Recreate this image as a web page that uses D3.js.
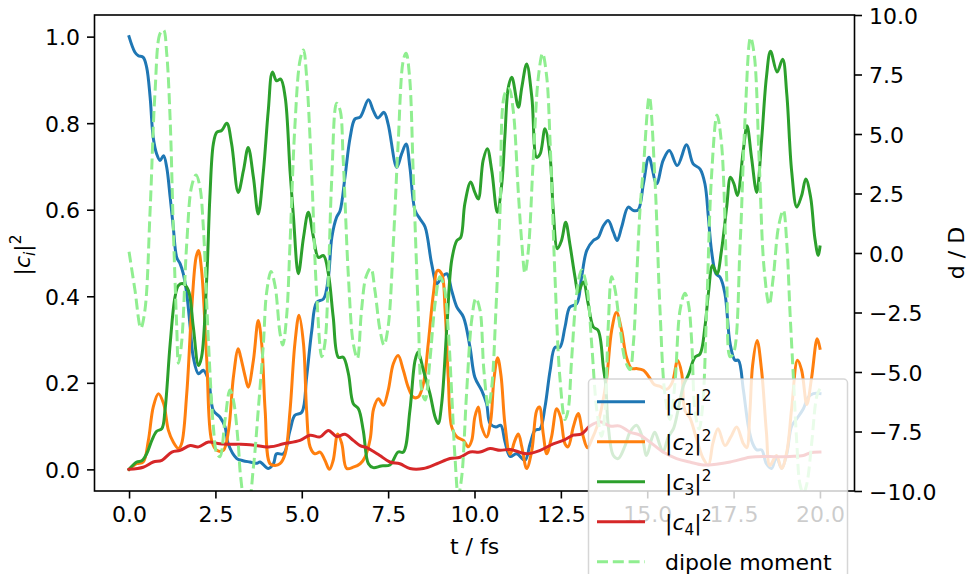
<!DOCTYPE html>
<html>
<head>
<meta charset="utf-8">
<script src="https://cdn.jsdelivr.net/npm/d3@7"></script>
<style>
  html, body { margin: 0; padding: 0; background: #fff; }
  svg { display: block; font-family: 'DejaVu Sans', sans-serif; }
</style>
</head>
<body>
<svg id="chart" width="973" height="574"></svg>
<script>
// populations |c_i|^2 as [t (fs), value]
const c1 = [[0,1.0],[0.17,0.964],[0.27,0.956],[0.41,0.952],[0.51,0.929],[0.61,0.86],[0.70,0.767],[0.80,0.729],[0.90,0.714],[1.0,0.725],
  [1.09,0.698],[1.19,0.629],[1.28,0.56],[1.38,0.49],[1.48,0.475],[1.57,0.452],[1.67,0.406],[1.77,0.329],[1.86,0.259],[2.01,0.221],
  [2.15,0.229],[2.30,0.206],[2.44,0.136],[2.63,0.121],[2.78,0.098],[2.87,0.059],[3.12,0.025],[3.3,0.02],[3.5,0.017],[3.7,0.014],
  [3.79,0.017],[4.03,0.002],[4.18,0.013],[4.27,0.036],[4.47,0.036],[4.66,0.09],[4.80,0.125],[5.0,0.132],[5.14,0.213],[5.29,0.321],
  [5.43,0.386],[5.63,0.394],[5.77,0.444],[5.87,0.536],[6.01,0.583],[6.11,0.598],[6.25,0.675],[6.40,0.767],[6.54,0.81],[6.69,0.814],
  [6.93,0.854],[7.07,0.829],[7.2,0.812],[7.38,0.825],[7.5,0.798],[7.75,0.698],[7.89,0.729],[8.02,0.752],[8.13,0.698],[8.28,0.598],
  [8.42,0.579],[8.57,0.56],[8.76,0.475],[8.91,0.429],[9.05,0.444],[9.20,0.452],[9.34,0.413],[9.49,0.375],[9.68,0.352],[9.87,0.282],
  [10.01,0.213],[10.21,0.182],[10.35,0.152],[10.45,0.106],[10.62,0.098],[10.76,0.102],[10.88,0.065],[11.03,0.03],[11.22,0.036],[11.46,0.021],
  [11.61,0.059],[11.75,0.09],[11.90,0.094],[12.04,0.144],[12.19,0.229],[12.33,0.282],[12.47,0.282],[12.62,0.329],[12.76,0.375],[12.96,0.383],
  [13.10,0.444],[13.25,0.506],[13.44,0.529],[13.58,0.536],[13.73,0.563],[13.87,0.575],[14.02,0.548],[14.13,0.529],[14.26,0.56],[14.45,0.606],
  [14.60,0.598],[14.74,0.6],[14.89,0.66],[15.05,0.721],[15.27,0.66],[15.46,0.714],[15.64,0.737],[15.87,0.702],[16.14,0.75],[16.33,0.706],
  [16.53,0.694],[16.67,0.66],[16.77,0.583],[16.86,0.506],[16.99,0.452],[17.11,0.444],[17.25,0.406],[17.40,0.29],[17.54,0.252],[17.64,0.252],
  [17.78,0.185],[17.93,0.098],[18.05,0.06],[18.17,0.045],[18.31,0.045],[18.45,0.013],[18.60,0.002],[18.74,0.028],[18.89,0.002],[19.04,0.036],
  [19.18,0.1],[19.33,0.117],[19.52,0.14],[19.66,0.167],[19.81,0.175],[20,0.175]];

const c2 = [[0,0],[0.22,0.013],[0.41,0.017],[0.56,0.067],[0.70,0.144],[0.85,0.175],[1.0,0.152],[1.14,0.09],[1.28,0.063],[1.43,0.048],
  [1.52,0.059],[1.67,0.175],[1.81,0.367],[1.94,0.49],[2.01,0.506],[2.10,0.46],[2.25,0.252],[2.39,0.067],[2.54,0.044],[2.73,0.044],
  [2.88,0.09],[3.02,0.213],[3.16,0.279],[3.23,0.26],[3.36,0.215],[3.45,0.19],[3.60,0.252],[3.74,0.344],[3.84,0.29],[3.94,0.136],
  [4.08,0.013],[4.23,0.009],[4.37,0.013],[4.52,0.036],[4.66,0.136],[4.80,0.29],[4.92,0.356],[5.05,0.29],[5.14,0.136],[5.24,0.052],
  [5.38,0.036],[5.53,0.04],[5.67,0.021],[5.80,0],[5.91,0.021],[6.04,0.082],[6.16,0.059],[6.30,0.002],[6.49,0.005],[6.69,0.013],
  [6.83,0.028],[6.98,0.07],[7.08,0.14],[7.22,0.163],[7.36,0.148],[7.5,0.182],[7.65,0.244],[7.79,0.263],[7.94,0.229],[8.08,0.19],
  [8.23,0.167],[8.37,0.167],[8.52,0.198],[8.66,0.29],[8.81,0.406],[8.93,0.46],[9.05,0.452],[9.15,0.367],[9.24,0.213],[9.34,0.098],
  [9.49,0.075],[9.68,0.067],[9.82,0.052],[9.92,0.067],[10.01,0.121],[10.11,0.144],[10.21,0.098],[10.35,0.075],[10.47,0.113],[10.56,0.206],
  [10.67,0.258],[10.77,0.215],[10.88,0.105],[11.03,0.035],[11.17,0.067],[11.27,0.082],[11.37,0.052],[11.51,0.002],[11.66,0.044],[11.80,0.136],
  [11.88,0.144],[11.99,0.082],[12.09,0.036],[12.23,0.075],[12.38,0.14],[12.49,0.121],[12.62,0.059],[12.71,0.052],[12.86,0.098],[13.0,0.129],
  [13.15,0.075],[13.27,0.05],[13.4,0.07],[13.55,0.1],[13.7,0.15],[13.83,0.213],[13.97,0.321],[14.11,0.363],[14.26,0.321],[14.40,0.259],
  [14.55,0.233],[14.69,0.233],[14.89,0.229],[15.08,0.21],[15.2,0.196],[15.37,0.192],[15.56,0.185],[15.72,0.2],[15.88,0.252],[16.0,0.221],
  [16.09,0.136],[16.23,0.12],[16.43,0.07],[16.62,0.025],[16.77,0.01],[16.9,0.06],[17.05,0.094],[17.25,0.055],[17.42,0.075],[17.59,0.098],
  [17.78,0.06],[17.88,0.05],[17.97,0.13],[18.05,0.24],[18.18,0.298],[18.31,0.229],[18.45,0.086],[18.55,0.009],[18.74,0.032],[18.89,0.002],
  [19.04,0.04],[19.18,0.14],[19.35,0.252],[19.47,0.229],[19.62,0.15],[19.76,0.213],[19.92,0.302],[20,0.28]];

const c3 = [[0,0],[0.22,0.017],[0.37,0.02],[0.51,0.036],[0.66,0.067],[0.80,0.088],[0.95,0.094],[1.04,0.136],[1.19,0.29],[1.33,0.398],
  [1.43,0.425],[1.57,0.429],[1.72,0.413],[1.86,0.329],[2.01,0.24],[2.10,0.26],[2.25,0.444],[2.34,0.629],[2.44,0.752],[2.54,0.779],
  [2.68,0.783],[2.83,0.8],[2.97,0.752],[3.16,0.64],[3.31,0.69],[3.45,0.744],[3.60,0.675],[3.74,0.59],[3.89,0.69],[4.03,0.829],
  [4.15,0.918],[4.27,0.898],[4.39,0.902],[4.52,0.86],[4.66,0.69],[4.76,0.583],[4.90,0.452],[5.05,0.536],[5.19,0.594],[5.34,0.536],
  [5.48,0.49],[5.63,0.494],[5.77,0.452],[5.91,0.352],[6.06,0.259],[6.20,0.259],[6.35,0.221],[6.49,0.152],[6.64,0.14],[6.78,0.09],
  [6.93,0.013],[7.07,0.004],[7.3,0.008],[7.55,0.01],[7.79,0.04],[7.94,0.04],[8.13,0.136],[8.28,0.252],[8.37,0.271],[8.52,0.229],
  [8.71,0.175],[8.86,0.121],[8.95,0.106],[9.05,0.152],[9.20,0.329],[9.34,0.483],[9.49,0.529],[9.60,0.536],[9.72,0.614],[9.89,0.664],
  [10.01,0.64],[10.11,0.625],[10.25,0.714],[10.37,0.741],[10.5,0.69],[10.66,0.594],[10.79,0.66],[10.88,0.77],[10.98,0.883],[11.08,0.906],
  [11.27,0.837],[11.37,0.883],[11.51,0.937],[11.66,0.86],[11.80,0.721],[11.90,0.729],[12.04,0.787],[12.19,0.721],[12.28,0.598],[12.40,0.51],
  [12.52,0.529],[12.64,0.571],[12.76,0.521],[12.91,0.444],[13.0,0.41],[13.15,0.433],[13.29,0.383],[13.44,0.329],[13.58,0.321],[13.73,0.236],
  [13.80,0.194],[13.87,0.102],[14.02,0.032],[14.16,0.025],[14.36,0.055],[14.50,0.086],[14.69,0.102],[14.84,0.079],[14.98,0.032],[15.13,0.071],
  [15.22,0.086],[15.37,0.055],[15.46,0.04],[15.61,0.075],[15.76,0.094],[15.90,0.14],[16.05,0.194],[16.2,0.22],[16.38,0.259],[16.53,0.267],
  [16.67,0.329],[16.77,0.406],[16.89,0.471],[17.02,0.452],[17.15,0.506],[17.30,0.606],[17.41,0.675],[17.51,0.66],[17.61,0.633],[17.78,0.737],
  [17.89,0.794],[18.02,0.72],[18.17,0.64],[18.31,0.76],[18.45,0.906],[18.57,0.966],[18.76,0.918],[18.92,0.948],[19.04,0.867],[19.18,0.69],
  [19.33,0.606],[19.47,0.633],[19.59,0.671],[19.73,0.629],[19.85,0.536],[19.95,0.494],[20,0.514]];

const c4 = [[0,0],[0.41,0.005],[0.70,0.017],[0.95,0.021],[1.24,0.04],[1.48,0.044],[1.77,0.055],[2.01,0.052],[2.30,0.063],[2.63,0.059],
  [3.12,0.058],[3.5,0.057],[4.08,0.052],[4.47,0.059],[4.95,0.067],[5.24,0.079],[5.53,0.075],[5.77,0.09],[6.01,0.076],[6.25,0.081],
  [6.49,0.067],[6.69,0.055],[6.88,0.05],[7.1,0.04],[7.26,0.032],[7.55,0.017],[7.84,0.013],[8.13,0.002],[8.52,0.002],[8.91,0.013],
  [9.29,0.025],[9.58,0.028],[9.87,0.04],[10.16,0.04],[10.45,0.048],[10.74,0.044],[11.03,0.046],[11.51,0.036],[11.90,0.044],[12.28,0.059],
  [12.57,0.067],[12.86,0.079],[13.10,0.082],[13.34,0.1],[13.63,0.11],[13.92,0.1],[14.21,0.1],[14.50,0.086],[14.79,0.079],[15.08,0.063],
  [15.46,0.04],[15.85,0.025],[16.23,0.017],[16.62,0.01],[17.0,0.012],[17.40,0.017],[17.97,0.028],[18.36,0.03],[18.74,0.029],[19.13,0.03],
  [19.52,0.032],[19.71,0.038],[20,0.04]];

// dipole moment (right axis, D)
const dipole = [[0,0.05],[0.17,-1.55],[0.34,-3.16],[0.46,-2.4],[0.61,1.8],[0.75,6.7],[0.9,9.23],[1.0,9.37],[1.09,8.39],[1.19,5.59],
  [1.28,1.1],[1.38,-3.1],[1.43,-4.63],[1.52,-3.79],[1.67,0.41],[1.81,2.79],[1.94,3.28],[2.05,2.79],[2.15,1.1],[2.30,-3.79],
  [2.44,-7.3],[2.54,-8.42],[2.63,-8.56],[2.78,-7.0],[2.92,-5.76],[3.02,-6.18],[3.16,-8.0],[3.23,-9.4],[3.35,-10.4],[3.45,-10.5],
  [3.6,-9.0],[3.74,-6.6],[3.89,-3.79],[3.98,-1.69],[4.11,-0.78],[4.23,-1.41],[4.37,-3.37],[4.45,-3.87],[4.56,-2.68],[4.66,0.41],
  [4.80,5.31],[4.95,8.1],[5.05,8.53],[5.14,7.4],[5.29,3.2],[5.43,-1.69],[5.58,-4.36],[5.67,-3.79],[5.77,-1.0],[5.87,3.2],
  [6.01,6.29],[6.11,6.0],[6.20,3.9],[6.35,-1.0],[6.49,-3.79],[6.61,-4.43],[6.73,-2.4],[6.86,-1.0],[7.0,-0.64],[7.12,-1.6],
  [7.26,-3.2],[7.38,-3.87],[7.5,-3.1],[7.65,0.41],[7.79,4.61],[7.94,8.11],[8.02,8.39],[8.12,7.41],[8.23,3.2],[8.37,-2.4],
  [8.47,-5.76],[8.57,-6.18],[8.71,-4.5],[8.86,-2.11],[9.0,-1.0],[9.12,-1.41],[9.24,-3.24],[9.34,-5.9],[9.44,-8.7],[9.53,-10.2],
  [9.63,-9.4],[9.77,-5.9],[9.92,-2.8],[10.04,-1.9],[10.16,-2.4],[10.27,-4.9],[10.40,-6.46],[10.50,-5.62],[10.62,-2.4],[10.74,1.8],
  [10.88,6.7],[11.0,6.9],[11.12,6.0],[11.27,2.5],[11.37,0.41],[11.46,-0.85],[11.56,0.13],[11.70,3.9],[11.85,7.41],[11.97,8.39],
  [12.09,7.41],[12.19,4.6],[12.33,-1.0],[12.47,-5.2],[12.62,-7.0],[12.71,-6.6],[12.81,-4.5],[12.96,-1.69],[13.10,-0.71],[13.25,-1.41],
  [13.39,-3.79],[13.54,-6.6],[13.68,-7.7],[13.78,-6.6],[13.87,-3.1],[13.97,-1.0],[14.07,-1.55],[14.21,-3.1],[14.36,-4.5],[14.50,-4.9],
  [14.60,-3.79],[14.69,-1.2],[14.79,1.8],[14.89,3.6],[15.06,6.57],[15.22,3.2],[15.37,-2.4],[15.51,-5.9],[15.66,-7.0],[15.8,-5.5],
  [15.95,-2.4],[16.09,-1.69],[16.19,-2.11],[16.29,-3.79],[16.38,-6.6],[16.5,-7.4],[16.6,-6.5],[16.72,-2.4],[16.86,3.2],[17.02,5.8],
  [17.15,4.6],[17.30,-1.0],[17.40,-4.36],[17.5,-4.2],[17.69,0.41],[17.83,5.6],[17.99,9.05],[18.1,8.3],[18.24,3.9],[18.38,-0.6],
  [18.53,-2.18],[18.65,-1.0],[18.80,1.1],[18.94,1.8],[19.04,0.41],[19.13,-2.4],[19.23,-5.2],[19.33,-8.0],[19.42,-9.7],[19.52,-10.1],
  [19.62,-9.7],[19.76,-8.0],[19.91,-6.0],[20,-5.7]];

const xTicks = [0, 2.5, 5, 7.5, 10, 12.5, 15, 17.5, 20];
const yLeftTicks = [0, 0.2, 0.4, 0.6, 0.8, 1.0];
const yRightTicks = [-10, -7.5, -5, -2.5, 0, 2.5, 5, 7.5, 10];

const popSeries = [
  { data: c1, color: '#1f77b4', sub: '1' },
  { data: c2, color: '#ff7f0e', sub: '2' },
  { data: c3, color: '#2ca02c', sub: '3' },
  { data: c4, color: '#d62728', sub: '4' },
];

const FS = 22;
const LW = 3;
const plotL = 94.5, plotR = 854.5, plotT = 15, plotB = 491;

const svg = d3.select('#chart');

const x = d3.scaleLinear().domain([-1, 21]).range([plotL, plotR]);
const yL = d3.scaleLinear().domain([-0.05, 1.05]).range([plotB, plotT]);
const yR = d3.scaleLinear().domain([-10, 10]).range([plotB, plotT]);

svg.append('defs').append('clipPath').attr('id', 'plotclip')
  .append('rect').attr('x', plotL).attr('y', plotT).attr('width', plotR - plotL).attr('height', plotB - plotT);

const plot = svg.append('g').attr('clip-path', 'url(#plotclip)');

const lineL = d3.line().x(d => x(d[0])).y(d => yL(d[1])).curve(d3.curveCatmullRom.alpha(0.5));
const lineR = d3.line().x(d => x(d[0])).y(d => yR(d[1])).curve(d3.curveCatmullRom.alpha(0.5));

popSeries.forEach(s => {
  plot.append('path')
    .attr('d', lineL(s.data))
    .attr('fill', 'none')
    .attr('stroke', s.color)
    .attr('stroke-width', LW)
    .attr('stroke-linejoin', 'round')
    .attr('stroke-linecap', 'square');
});

plot.append('path')
  .attr('d', lineR(dipole))
  .attr('fill', 'none')
  .attr('stroke', '#90ee90')
  .attr('stroke-width', LW)
  .attr('stroke-dasharray', '11,4.8');

// axes
const fmt = d3.format('.1f');
const minusFmt = v => fmt(v).replace('-', '\u2212');

const gx = svg.append('g').attr('transform', `translate(0,${plotB})`)
  .call(d3.axisBottom(x).tickValues(xTicks).tickFormat(minusFmt).tickSize(7.5).tickPadding(7));
const gyl = svg.append('g').attr('transform', `translate(${plotL},0)`)
  .call(d3.axisLeft(yL).tickValues(yLeftTicks).tickFormat(minusFmt).tickSize(7.5).tickPadding(7));
const gyr = svg.append('g').attr('transform', `translate(${plotR},0)`)
  .call(d3.axisRight(yR).tickValues(yRightTicks).tickFormat(minusFmt).tickSize(7.5).tickPadding(7));

[gx, gyl, gyr].forEach(g => {
  g.select('.domain').remove();
  g.selectAll('.tick line').attr('stroke', '#000').attr('stroke-width', 1.6);
  g.selectAll('.tick text').attr('font-size', FS).attr('font-family', 'DejaVu Sans').attr('fill', '#000');
});
gx.selectAll('.tick text').attr('dy', null).attr('y', 31);
gyl.selectAll('.tick text').attr('dy', null).attr('y', 8);
gyr.selectAll('.tick text').attr('dy', null).attr('y', 8);

svg.append('rect')
  .attr('x', plotL).attr('y', plotT).attr('width', plotR - plotL).attr('height', plotB - plotT)
  .attr('fill', 'none').attr('stroke', '#000').attr('stroke-width', 1.6);

// |c_x|^2 in mathtext style
function mathLabel(t, sub, subItalic) {
  t.append('tspan').text('|');
  t.append('tspan').attr('font-style', 'italic').text('c');
  t.append('tspan').attr('font-size', FS * 0.7).attr('dy', FS * 0.24)
    .attr('font-style', subItalic ? 'italic' : null).text(sub);
  t.append('tspan').attr('dy', -FS * 0.24).text('|');
  t.append('tspan').attr('font-size', FS * 0.7).attr('dy', -FS * 0.4).text('2');
}

// axis labels
svg.append('text')
  .attr('x', (plotL + plotR) / 2).attr('y', 554)
  .attr('text-anchor', 'middle').attr('font-size', FS)
  .text('t / fs');

const yl = svg.append('text')
  .attr('transform', 'translate(30,255) rotate(-90)')
  .attr('text-anchor', 'middle').attr('font-size', FS);
mathLabel(yl, 'i', true);

svg.append('text')
  .attr('transform', 'translate(964,253) rotate(-90)')
  .attr('text-anchor', 'middle').attr('font-size', FS)
  .text('d / D');

// legend
const lg = svg.append('g');
lg.append('rect')
  .attr('x', 588.5).attr('y', 379).attr('width', 259).attr('height', 210).attr('rx', 4)
  .attr('fill', '#fff').attr('fill-opacity', 0.8)
  .attr('stroke', '#cccccc').attr('stroke-opacity', 0.8).attr('stroke-width', 1.5);

const legendItems = popSeries.map(s => ({ color: s.color, sub: s.sub, dash: null }))
  .concat([{ color: '#90ee90', label: 'dipole moment', dash: '11,4.8' }]);

legendItems.forEach((it, i) => {
  const yy = 401.7 + i * 40;
  lg.append('line')
    .attr('x1', 597).attr('x2', 645).attr('y1', yy).attr('y2', yy)
    .attr('stroke', it.color).attr('stroke-width', LW)
    .attr('stroke-dasharray', it.dash);
  const t = lg.append('text').attr('x', 665).attr('y', yy + 8).attr('font-size', FS);
  if (it.label) t.text(it.label);
  else mathLabel(t, it.sub, false);
});
</script>
</body>
</html>
